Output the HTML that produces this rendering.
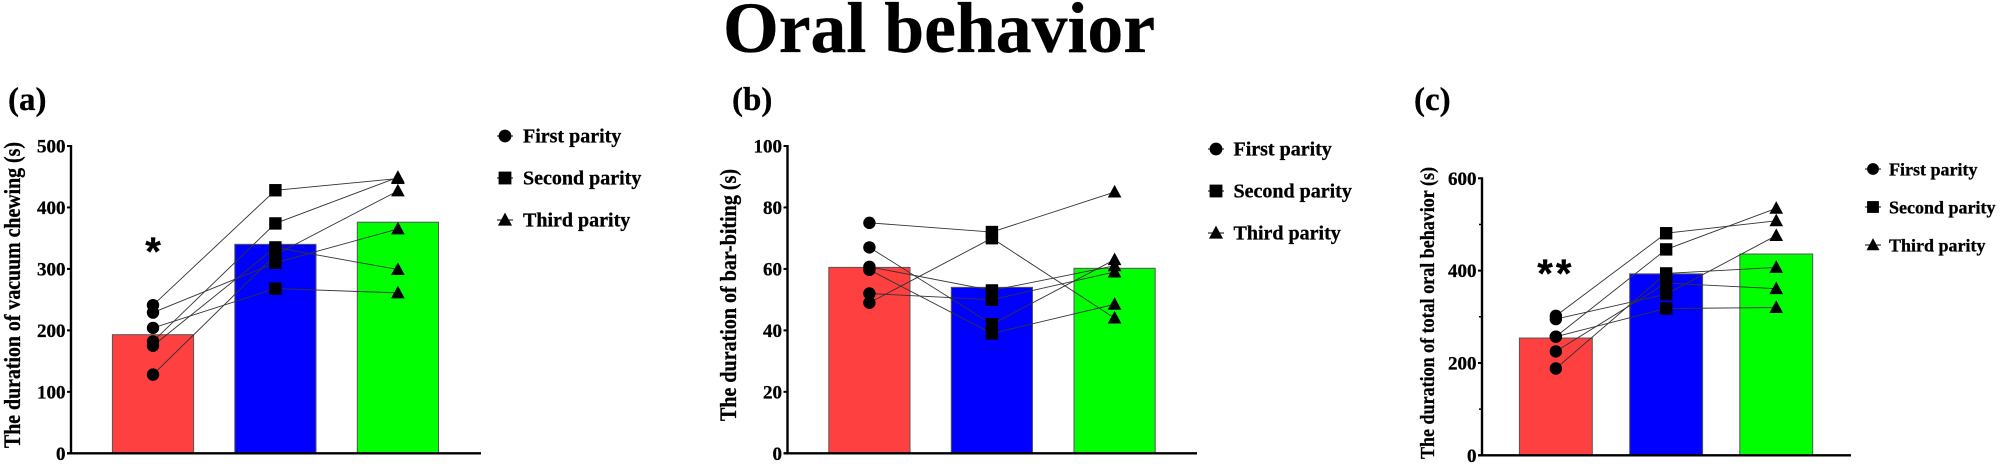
<!DOCTYPE html>
<html>
<head>
<meta charset="utf-8">
<title>Oral behavior</title>
<style>
html,body{margin:0;padding:0;background:#fff;width:2000px;height:466px;overflow:hidden}
svg{display:block;font-family:"Liberation Serif",serif;font-weight:bold;fill:#000;filter:blur(0.35px)}
text{stroke:#000;stroke-width:0.3px}
</style>
</head>
<body>
<svg id="fig" width="2000" height="466" viewBox="0 0 2000 466" xmlns="http://www.w3.org/2000/svg">
<text x="723" y="52" font-size="72" textLength="432" lengthAdjust="spacingAndGlyphs">Oral behavior</text>
</svg>
<script>
const svgNS = "http://www.w3.org/2000/svg";
const fig = document.getElementById("fig");

const categories = ["First parity", "Second parity", "Third parity"];
const barColors = ["#ff4040", "#0000ff", "#00ff00"];

const meansA = [193, 340, 376];
const firstA = [241, 229, 204, 182, 175, 128];
const secondA = [428, 310, 268, 374, 335, 323];
const thirdA = [447, 365, 261, 449, 299, 427];
const ticksA = [0, 100, 200, 300, 400, 500];

const meansB = [60.5, 54, 60.2];
const firstB = [75, 67, 60.7, 59.7, 52, 49];
const secondB = [72, 42, 53, 39, 50, 70];
const thirdB = [85, 63, 61, 48.5, 59, 44];
const ticksB = [0, 20, 40, 60, 80, 100];

const meansC = [254, 393, 436];
const firstC = [302, 295, 257, 257, 225, 188];
const secondC = [481, 349, 446, 318, 373, 394];
const thirdC = [508, 476, 535, 320, 361, 407];
const ticksC = [0, 200, 400, 600];
const minorTicksC = [100, 300, 500];

function add(parent, tag, attrs, text) {
  const el = document.createElementNS(svgNS, tag);
  for (const k in attrs) el.setAttribute(k, attrs[k]);
  if (text !== undefined) el.textContent = text;
  parent.appendChild(el);
  return el;
}

function drawMarker(parent, kind, x, y, size) {
  let el;
  if (kind === 0) {
    el = add(parent, "ellipse", {cx: x, cy: y, rx: size, ry: size, fill: "#000"});
  } else if (kind === 1) {
    el = add(parent, "rect", {x: x - size, y: y - size, width: size * 2, height: size * 2, fill: "#000"});
  } else {
    const s = size * 1.1;
    el = add(parent, "polygon", {points: (x) + "," + (y - s * 1.05) + " " + (x + s) + "," + (y + s * 0.8) + " " + (x - s) + "," + (y + s * 0.8), fill: "#000"});
  }
  return el;
}

function drawPanel(p) {
  const g = add(fig, "g", {});
  
  

  const yScale = v => p.y0 - (v / p.max) * (p.y0 - p.yTop);
  const xScale = i => p.barX[i] + p.barW / 2;

  const label = add(g, "text", {x: p.labelX, y: 110, "font-size": 33}, "(" + p.id + ")");
  
  

  p.means.forEach((m, i) => {
    const bar = add(g, "rect", {x: p.barX[i], y: yScale(m), width: p.barW, height: p.y0 - yScale(m), fill: barColors[i], stroke: "#555", "stroke-width": 1});
    
    
  });

  const yAxis = add(g, "line", {x1: p.axisX, x2: p.axisX, y1: p.yTop - 1, y2: p.y0, stroke: "#000", "stroke-width": 2.4});
  
  
  const xAxis = add(g, "line", {x1: p.axisX - 4, x2: p.axisEnd, y1: p.y0, y2: p.y0, stroke: "#000", "stroke-width": 2.4});
  
  

  p.ticks.forEach(t => {
    const tick = add(g, "line", {x1: p.axisX - 4, x2: p.axisX, y1: yScale(t), y2: yScale(t), stroke: "#000", "stroke-width": 2});
    
    
    const tl = add(g, "text", {x: p.axisX - 5.5, y: yScale(t) + 6.5, "font-size": 19, "text-anchor": "end"}, t);
    
    
  });
  (p.minor || []).forEach(t => {
    const tick = add(g, "line", {x1: p.axisX - 3, x2: p.axisX, y1: yScale(t), y2: yScale(t), stroke: "#000", "stroke-width": 1.5});
    
    
  });

  const title = add(g, "text", {transform: "translate(" + p.titleX + "," + p.titleBottom + ") rotate(-90)", "font-size": p.titleFont, textLength: p.titleLen, lengthAdjust: "spacingAndGlyphs"}, p.title);
  
  

  p.first.forEach((v, i) => {
    const pts = [[xScale(0), yScale(v)], [xScale(1), yScale(p.second[i])], [xScale(2), yScale(p.third[i])]];
    const line = add(g, "polyline", {points: pts.map(a => a.join(",")).join(" "), fill: "none", stroke: "#333", "stroke-width": 0.9});
    
    
  });
  [p.first, p.second, p.third].forEach((series, k) => {
    series.forEach(v => {
      const mk = drawMarker(g, k, xScale(k), yScale(v), 6.2);
      
      
    });
  });

  categories.forEach((c, i) => {
    const mk = drawMarker(g, i, p.legendX, p.legendY[i], p.legendMarker);
    
    
    const dash = add(g, "line", {x1: p.legendX - 8, x2: p.legendX + 8, y1: p.legendY[i], y2: p.legendY[i], stroke: "#000", "stroke-width": 1});
    
    
    const t = add(g, "text", {x: p.legendTextX, y: p.legendY[i] + 6.5, "font-size": p.legendFont}, c);
    
    
  });

  if (p.star) {
    const s = add(g, "text", {x: xScale(0), y: p.starY, "font-size": 40, "text-anchor": "middle", "font-family": "Liberation Sans, sans-serif", "letter-spacing": p.starGap}, p.star);
    
    
  }
}

drawPanel({id: "a", labelX: 8, y0: 453.3, yTop: 146, max: 500, axisX: 71, axisEnd: 481, barX: [112.4, 234.8, 357.3], barW: 81.2,
  means: meansA, first: firstA, second: secondA, third: thirdA, ticks: ticksA,
  title: "The duration of vacuum chewing (s)", titleFont: 23, titleX: 20, titleBottom: 448, titleLen: 306,
  legendX: 505, legendTextX: 523, legendY: [136, 178, 220], legendMarker: 6.4, legendFont: 20, star: "*", starY: 265, starGap: 0});

drawPanel({id: "b", labelX: 732, y0: 453.3, yTop: 146, max: 100, axisX: 787.5, axisEnd: 1197, barX: [828.8, 951.3, 1074], barW: 81.2,
  means: meansB, first: firstB, second: secondB, third: thirdB, ticks: ticksB,
  title: "The duration of bar-biting (s)", titleFont: 23, titleX: 736, titleBottom: 421, titleLen: 252,
  legendX: 1216, legendTextX: 1233.5, legendY: [149, 191, 233], legendMarker: 6.4, legendFont: 20});

drawPanel({id: "c", labelX: 1414, y0: 455.3, yTop: 178.3, max: 600, axisX: 1482, axisEnd: 1851, barX: [1519.4, 1629.7, 1739.8], barW: 72.9,
  means: meansC, first: firstC, second: secondC, third: thirdC, ticks: ticksC, minor: minorTicksC,
  title: "The duration of total oral behavior (s)", titleFont: 20.5, titleX: 1434, titleBottom: 459, titleLen: 292,
  legendX: 1873, legendTextX: 1889, legendY: [169, 207, 245], legendMarker: 5.9, legendFont: 18, star: "**", starY: 287, starGap: 3});
</script>
</body>
</html>
